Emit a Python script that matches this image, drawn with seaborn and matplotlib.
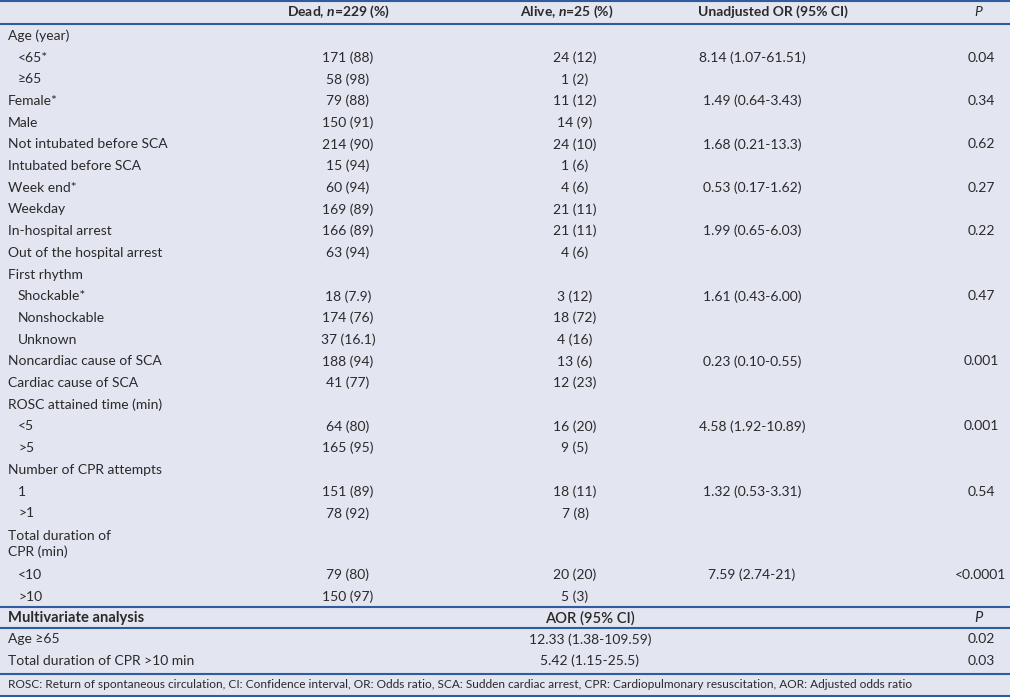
import numpy as np
import pandas as pd
import matplotlib
matplotlib.use("Agg")
import matplotlib.pyplot as plt
import seaborn as sns

# table contents
labels = ["Age (year)", "<65*", "≥65", "Female*", "Male", "Not intubated before SCA",
          "Intubated before SCA", "Week end*", "Weekday", "In-hospital arrest",
          "Out of the hospital arrest", "First rhythm", "Shockable*", "Nonshockable",
          "Unknown", "Noncardiac cause of SCA", "Cardiac cause of SCA",
          "ROSC attained time (min)", "<5", ">5", "Number of CPR attempts", "1", ">1",
          "Total duration of\nCPR (min)", "<10", ">10"]
indented = [0, 1, 1, 0, 0, 0, 0, 0, 0, 0, 0, 0, 1, 1, 1, 0, 0, 0, 1, 1, 0, 1, 1, 0, 1, 1]
dead = ["", "171 (88)", "58 (98)", "79 (88)", "150 (91)", "214 (90)", "15 (94)", "60 (94)",
        "169 (89)", "166 (89)", "63 (94)", "", "18 (7.9)", "174 (76)", "37 (16.1)",
        "188 (94)", "41 (77)", "", "64 (80)", "165 (95)", "", "151 (89)", "78 (92)", "",
        "79 (80)", "150 (97)"]
alive = ["", "24 (12)", "1 (2)", "11 (12)", "14 (9)", "24 (10)", "1 (6)", "4 (6)", "21 (11)",
         "21 (11)", "4 (6)", "", "3 (12)", "18 (72)", "4 (16)", "13 (6)", "12 (23)", "",
         "16 (20)", "9 (5)", "", "18 (11)", "7 (8)", "", "20 (20)", "5 (3)"]
or_ci = ["", "8.14 (1.07-61.51)", "", "1.49 (0.64-3.43)", "", "1.68 (0.21-13.3)", "",
         "0.53 (0.17-1.62)", "", "1.99 (0.65-6.03)", "", "", "1.61 (0.43-6.00)", "", "",
         "0.23 (0.10-0.55)", "", "", "4.58 (1.92-10.89)", "", "", "1.32 (0.53-3.31)", "", "",
         "7.59 (2.74-21)", ""]
p_vals = ["", "0.04", "", "0.34", "", "0.62", "", "0.27", "", "0.22", "", "", "0.47", "", "",
          "0.001", "", "", "0.001", "", "", "0.54", "", "", "<0.0001", ""]

mv_labels = ["Age ≥65", "Total duration of CPR >10 min"]
mv_aor = ["12.33 (1.38-109.59)", "5.42 (1.15-25.5)"]
mv_p = ["0.02", "0.03"]

footnote = ("ROSC: Return of spontaneous circulation, CI: Confidence interval, OR: Odds ratio, "
            "SCA: Sudden cardiac arrest, CPR: Cardiopulmonary resuscitation, AOR: Adjusted odds ratio")

df = pd.DataFrame({"label": labels, "indent": indented, "dead": dead, "alive": alive,
                   "or_ci": or_ci, "p": p_vals})

sns.set_theme(style="dark", rc={"axes.facecolor": "#E3E5F1", "figure.facecolor": "#E3E5F1"})
plt.rcParams['font.family'] = ['Lato', 'DejaVu Sans']
plt.rcParams['mathtext.fontset'] = 'custom'
plt.rcParams['mathtext.it'] = 'Lato:italic:bold'
plt.rcParams['mathtext.rm'] = 'Lato:bold'

txt = "#2a2a2a"
rule = "#2E5C9C"
fs = 10

fig = plt.figure(figsize=(10.1, 6.97), dpi=100)
ax = fig.add_axes([0, 0, 1, 1])
ax.set_xlim(0, 1010)
ax.set_ylim(697, 0)
ax.set_axis_off()
ax.add_patch(plt.Rectangle((0, 0), 1010, 697, color="#E3E5F1", zorder=0))

# row geometry
row_h = 21.7
heights = np.where(df["label"].str.contains("\n"), 40.0, row_h)
tops = 25 + np.concatenate([[0], np.cumsum(heights)[:-1]])
centers = tops + heights / 2
body_end = tops[-1] + heights[-1]

# header
ax.text(338, 12, r"Dead, $n$=229 (%)", ha="center", va="center", fontsize=fs, weight="bold", color=txt)
ax.text(567, 12, r"Alive, $n$=25 (%)", ha="center", va="center", fontsize=fs, weight="bold", color=txt)
ax.text(773, 12, "Unadjusted OR (95% CI)", ha="center", va="center", fontsize=fs, weight="bold", color=txt)
ax.text(978, 12, "P", ha="center", va="center", fontsize=fs, style="italic", color=txt)

for i, r in df.iterrows():
    y = centers[i]
    ax.text(18 if r["indent"] else 8, y, r["label"], ha="left", va="center",
            fontsize=fs, color=txt, linespacing=1.4)
    ax.text(348, y, r["dead"], ha="center", va="center", fontsize=fs, color=txt)
    ax.text(575, y, r["alive"], ha="center", va="center", fontsize=fs, color=txt)
    ax.text(752, y, r["or_ci"], ha="center", va="center", fontsize=fs, color=txt)
    ax.text(981, y, r["p"], ha="center", va="center", fontsize=fs, color=txt)

# multivariate block
mv_top = body_end
ax.text(8, mv_top + 11, "Multivariate analysis", ha="left", va="center", fontsize=fs + 0.6,
        weight="bold", color=txt)
ax.text(590, mv_top + 11, "AOR (95% CI)", ha="center", va="center", fontsize=fs + 0.6,
        weight="semibold", color=txt)
ax.text(978, mv_top + 11, "P", ha="center", va="center", fontsize=fs + 0.6, style="italic", color=txt)
mv_rows_top = mv_top + 21
for k, (lab, aor, p) in enumerate(zip(mv_labels, mv_aor, mv_p)):
    y = mv_rows_top + row_h * k + row_h / 2
    ax.text(8, y, lab, ha="left", va="center", fontsize=fs, color=txt)
    ax.text(590, y, aor, ha="center", va="center", fontsize=fs, color=txt)
    ax.text(981, y, p, ha="center", va="center", fontsize=fs, color=txt)
foot_top = mv_rows_top + 2 * row_h + 2

ax.text(8, foot_top + 11, footnote, ha="left", va="center", fontsize=8.6, color=txt)

# rules
for y in [1, 24, mv_top, mv_rows_top, foot_top, 696]:
    ax.hlines(y, 0, 1010, color=rule, lw=1.5)

fig.savefig("out.png", dpi=100, facecolor=fig.get_facecolor())
